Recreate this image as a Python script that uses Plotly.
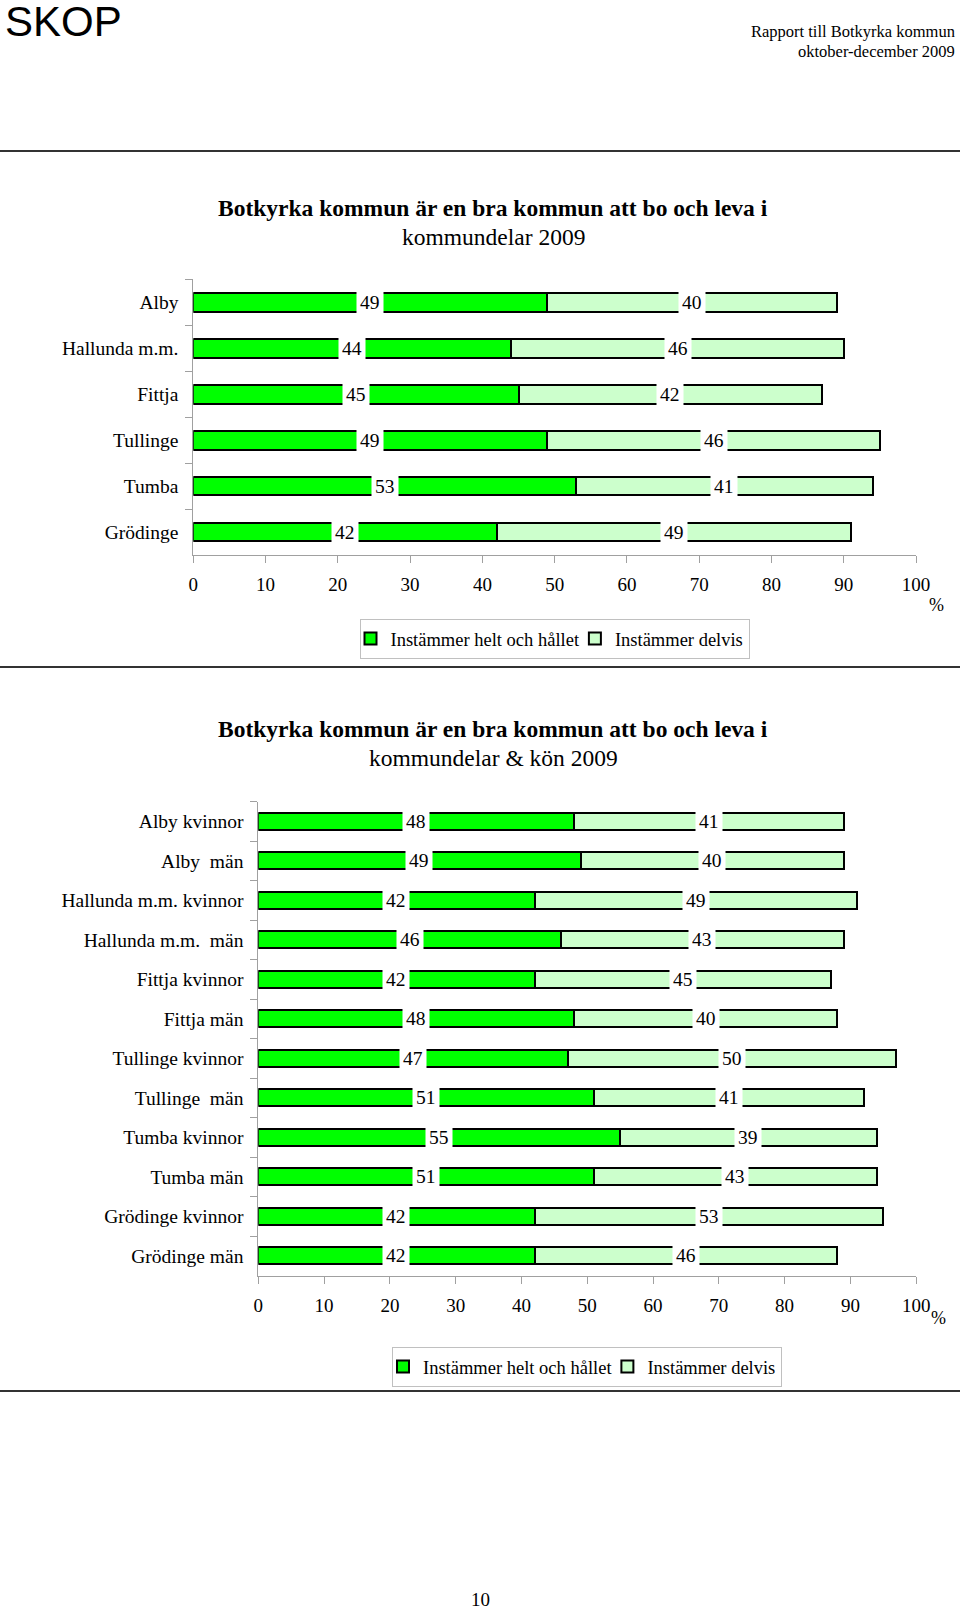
import plotly.graph_objects as go

W, H = 960, 1609

# --- data ---
omr = ['Alby', 'Hallunda m.m.', 'Fittja', 'Tullinge', 'Tumba', 'Grödinge']
omr_helt = [49, 44, 45, 49, 53, 42]
omr_delvis = [40, 46, 42, 46, 41, 49]

kon = ['Alby kvinnor', 'Alby\u00a0 män', 'Hallunda m.m. kvinnor', 'Hallunda m.m.\u00a0 män',
       'Fittja kvinnor', 'Fittja män', 'Tullinge kvinnor', 'Tullinge\u00a0 män',
       'Tumba kvinnor', 'Tumba män', 'Grödinge kvinnor', 'Grödinge män']
kon_helt = [48, 49, 42, 46, 42, 48, 47, 51, 55, 51, 42, 42]
kon_delvis = [41, 40, 49, 43, 45, 40, 50, 41, 39, 43, 53, 46]

ticks = list(range(0, 101, 10))
serie_namn = ['Instämmer helt och hållet', 'Instämmer delvis']

GREEN = '#00ff00'
LIGHT = '#ccffcc'
SERIF = 'Liberation Serif, Times New Roman, serif'
AXCOL = '#a0a0a0'


def px(x):
    return x / W


def py(y):
    return 1 - y / H


def txt(x, y, text, size, family=SERIF, xanchor='center'):
    return dict(x=px(x), y=py(y), xref='paper', yref='paper', text=text,
                xanchor=xanchor, yanchor='middle', showarrow=False,
                font=dict(size=size, family=family, color='black'))


fig = go.Figure()

for cats, helt, delvis, xa, ya, leg, w in [
        (omr, omr_helt, omr_delvis, 'x', 'y', 'legend', 0.41),
        (kon, kon_helt, kon_delvis, 'x2', 'y2', 'legend2', 0.43)]:
    fig.add_trace(go.Bar(x=helt, y=cats, orientation='h', name=serie_namn[0],
                         marker=dict(color=GREEN, line=dict(color='black', width=2)),
                         width=w, xaxis=xa, yaxis=ya, legend=leg))
    fig.add_trace(go.Bar(x=delvis, y=cats, orientation='h', name=serie_namn[1],
                         marker=dict(color=LIGHT, line=dict(color='black', width=2)),
                         width=w, xaxis=xa, yaxis=ya, legend=leg))

annotations = []
# value labels with white boxes
for cats, helt, delvis, xa, ya in [(omr, omr_helt, omr_delvis, 'x', 'y'),
                                   (kon, kon_helt, kon_delvis, 'x2', 'y2')]:
    for c, a, b in zip(cats, helt, delvis):
        for xv, t in [(a / 2, a), (a + b / 2, b)]:
            annotations.append(dict(x=xv, y=c, xref=xa, yref=ya, text=str(t),
                                    xanchor='center', yanchor='middle',
                                    showarrow=False, bgcolor='white', borderpad=3,
                                    font=dict(size=19.5, family=SERIF, color='black')))

# titles
for y1, y2, sub in [(208, 237, 'kommundelar 2009'), (729, 758, 'kommundelar &amp; kön 2009')]:
    annotations.append(txt(493, y1, '<b>Botkyrka kommun är en bra kommun att bo och leva i</b>', 23.5))
    annotations.append(txt(493, y2, sub, 23.5))

# % signs
annotations.append(txt(936, 605, '%', 18))
annotations.append(txt(938, 1318, '%', 18))

# header / footer
annotations.append(txt(3, 22, 'SKOP', 42, 'Liberation Sans, Arial, sans-serif', 'left'))
annotations.append(txt(957, 32, 'Rapport till Botkyrka kommun', 16.5, xanchor='right'))
annotations.append(txt(957, 52, 'oktober-december 2009', 16.5, xanchor='right'))
annotations.append(txt(480, 1599, '10', 19))

shapes = []
for yy in [151, 667, 1391]:
    shapes.append(dict(type='line', xref='paper', yref='paper', x0=0, x1=1,
                       y0=py(yy), y1=py(yy), line=dict(color='#333333', width=2)))

xaxis_style = dict(range=[0, 100], tickvals=ticks, showgrid=False, zeroline=False,
                   showline=True, linecolor=AXCOL, linewidth=1, ticks='outside',
                   ticklen=7, tickcolor=AXCOL, ticklabelstandoff=5, automargin=False,
                   tickfont=dict(size=19, family=SERIF, color='black'), fixedrange=True)
yaxis_style = dict(autorange='reversed', showgrid=False, zeroline=False, showline=True,
                   linecolor=AXCOL, linewidth=1, ticks='outside', ticklen=7,
                   tickcolor=AXCOL, tickson='boundaries', ticklabelstandoff=10,
                   automargin=False,
                   tickfont=dict(size=19.5, family=SERIF, color='black'), fixedrange=True)

legend_style = dict(orientation='h', xanchor='center', yanchor='top',
                    bordercolor='#c0c0c0', borderwidth=1, bgcolor='white',
                    font=dict(size=18.5, family=SERIF, color='black'),
                    itemwidth=30, indentation=-10, traceorder='normal')

fig.update_layout(
    width=W, height=H, autosize=False,
    margin=dict(l=0, r=0, t=0, b=0, pad=0, autoexpand=False),
    paper_bgcolor='white', plot_bgcolor='white',
    barmode='stack',
    font=dict(family=SERIF, color='black'),
    xaxis=dict(domain=[px(193.3), px(916)], anchor='y', **xaxis_style),
    yaxis=dict(domain=[py(555), py(279.3)], anchor='x', **yaxis_style),
    xaxis2=dict(domain=[px(258.3), px(916.2)], anchor='y2', **xaxis_style),
    yaxis2=dict(domain=[py(1275.7), py(801.7)], anchor='x2', **yaxis_style),
    legend=dict(x=px(554.5), y=py(619), **legend_style),
    legend2=dict(x=px(587), y=py(1347), **legend_style),
    annotations=annotations,
    shapes=shapes,
)

fig.write_html("out.html",
               config={'responsive': False, 'displayModeBar': False},
               post_script="document.body.style.margin='0';document.body.style.overflow='hidden';")
